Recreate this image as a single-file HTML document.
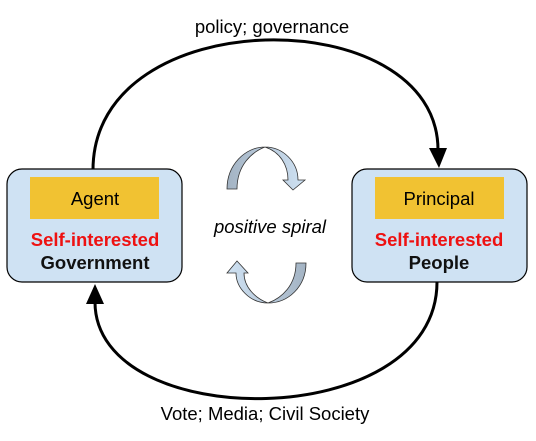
<!DOCTYPE html>
<html><head><style>
body{margin:0;background:#fff;}
svg{display:block;}
text{font-family:"Liberation Sans",Arial,sans-serif;}
</style></head><body>
<svg width="536" height="441" viewBox="0 0 536 441" xmlns="http://www.w3.org/2000/svg">
<defs>
<linearGradient id="g1" x1="0" y1="0" x2="1" y2="0">
<stop offset="0" stop-color="#a3b3c3"/><stop offset="0.5" stop-color="#b9cadb"/><stop offset="1" stop-color="#cfe2f3"/>
</linearGradient>
<linearGradient id="g2" x1="1" y1="0" x2="0" y2="0">
<stop offset="0" stop-color="#a3b3c3"/><stop offset="0.5" stop-color="#b9cadb"/><stop offset="1" stop-color="#cfe2f3"/>
</linearGradient>
</defs>
<path d="M93,170 C93,0 438,0 438,150" fill="none" stroke="#000" stroke-width="3"/>
<polygon points="429,148 447,148 439,168" fill="#000"/>
<path d="M437,282 C437,434 95,434 95,302" fill="none" stroke="#000" stroke-width="3"/>
<polygon points="86,304 104,304 95,284" fill="#000"/>
<text x="272" y="33" font-size="18.5" text-anchor="middle">policy; governance</text>
<text x="265" y="420" font-size="18.5" text-anchor="middle">Vote; Media; Civil Society</text>
<rect x="7" y="169" width="175" height="113" rx="15" fill="#cfe2f3" stroke="#000" stroke-width="1.2"/>
<rect x="30" y="177" width="129" height="42" fill="#f1c232"/>
<text x="95" y="205" font-size="18.5" text-anchor="middle">Agent</text>
<text x="95" y="246" font-size="18.5" font-weight="bold" fill="#ee1111" text-anchor="middle">Self-interested</text>
<text x="95" y="269" font-size="18.5" font-weight="bold" fill="#111" text-anchor="middle">Government</text>
<rect x="352" y="169" width="175" height="113" rx="15" fill="#cfe2f3" stroke="#000" stroke-width="1.2"/>
<rect x="375" y="177" width="129" height="42" fill="#f1c232"/>
<text x="439" y="205" font-size="18.5" text-anchor="middle">Principal</text>
<text x="439" y="246" font-size="18.5" font-weight="bold" fill="#ee1111" text-anchor="middle">Self-interested</text>
<text x="439" y="269" font-size="18.5" font-weight="bold" fill="#111" text-anchor="middle">People</text>
<text x="270" y="233" font-size="18.5" font-style="italic" text-anchor="middle">positive spiral</text>
<path d="M227,189 C227,165 245,147 265,147 C283,147 298,162 298,180 L305,180 L293,190 L283,180 L288,180 C288,165 280,152 265,147 C252,152 237,165 237,189 Z" fill="url(#g1)" stroke="#333" stroke-width="0.8"/>
<path d="M306,263 C306,287 288,303 268,303 C250,303 236,288 236,273 L227,273 L237,261 L248,273 L244,273 C244,287 255,298 268,303 C282,298 296,285 296,263 Z" fill="url(#g2)" stroke="#333" stroke-width="0.8"/>
</svg>
</body></html>
